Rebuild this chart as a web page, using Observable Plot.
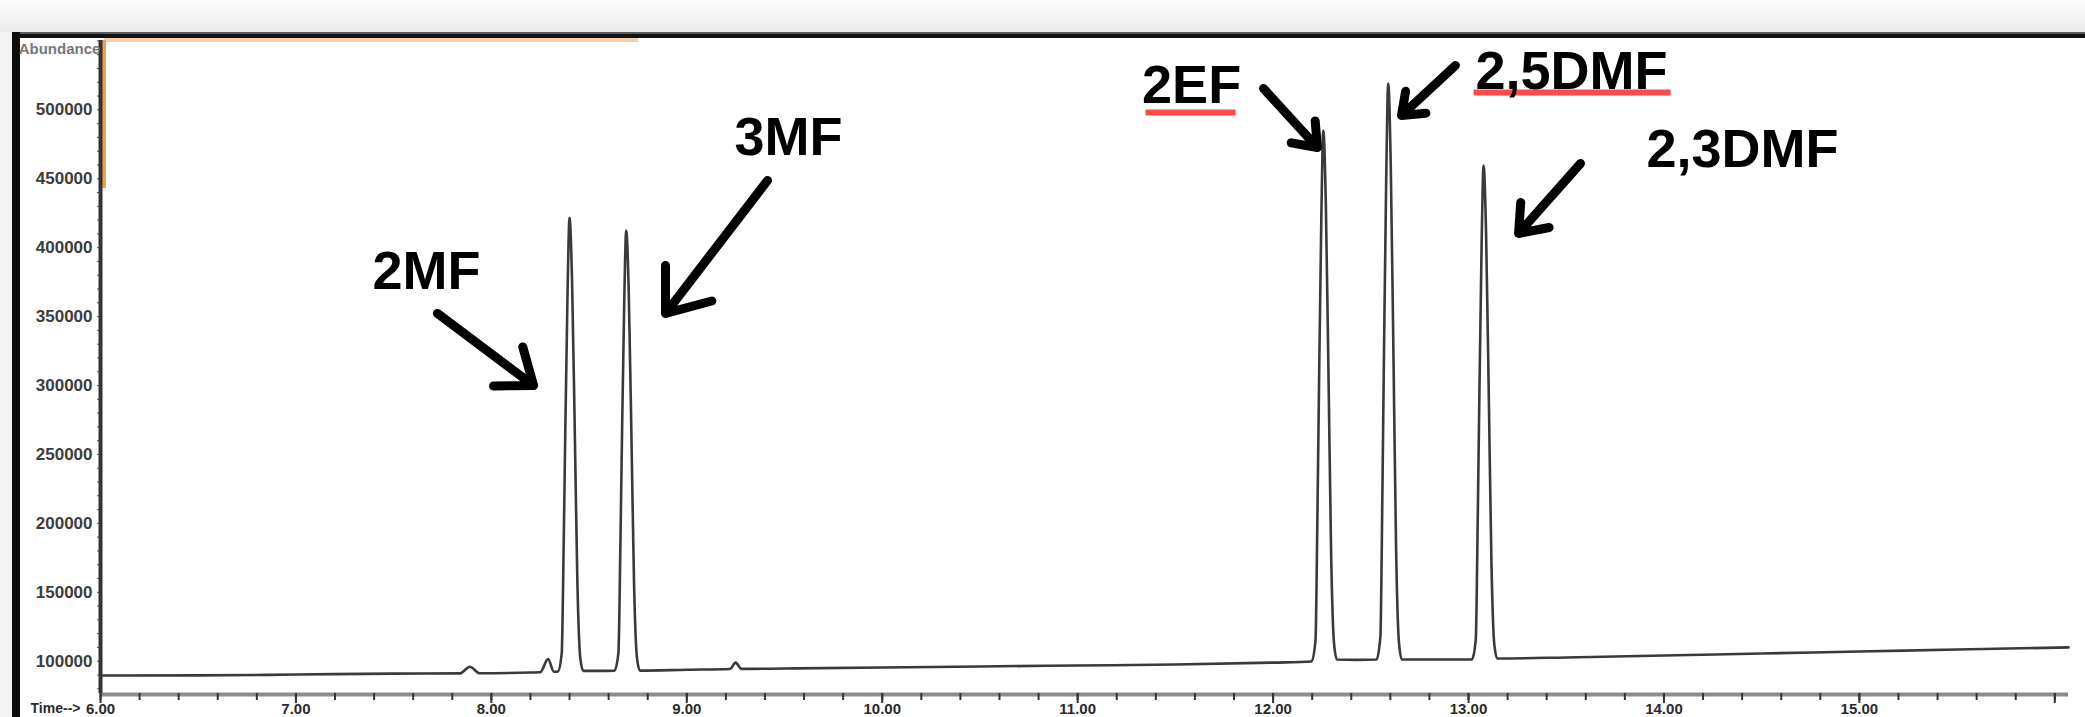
<!DOCTYPE html>
<html><head><meta charset="utf-8">
<script src="https://cdn.jsdelivr.net/npm/d3@7"></script>
<script src="https://cdn.jsdelivr.net/npm/@observablehq/plot@0.6"></script>
<style>
html,body{margin:0;padding:0;background:#fff;}
#wrap{position:relative;width:2085px;height:717px;overflow:hidden;background:#fff;}
.deco{position:absolute;}
#chart{position:absolute;left:0;top:0;}
</style></head><body>
<div id="wrap">
 <div class="deco" style="left:0;top:0;width:2085px;height:32px;background:linear-gradient(#fcfcfc,#ebebeb);"></div>
 <div class="deco" style="left:0;top:32px;width:12px;bottom:0;background:#f3f3f3;"></div>
 <div class="deco" style="left:12px;top:32px;right:0;height:2px;background:#5a5a5a;"></div>
 <div class="deco" style="left:12px;top:34px;right:0;height:4px;background:#121212;"></div>
 <div class="deco" style="left:12px;top:32px;width:8px;bottom:0;background:#0d0d0d;"></div>
 <div class="deco" style="left:104px;top:38px;width:534px;height:4px;background:#f7cfac;"></div>
 <div class="deco" style="left:102px;top:40px;width:4px;height:148px;background:#f0a04c;"></div>
 <div id="chart"></div>
</div>
<script>
// Chromatogram trace (retention time in minutes, abundance)
const retentionTime = [
  6.00, 6.50, 7.00, 7.50, 7.84, 7.89, 7.94, 8.20, 8.25, 8.29, 8.32, 8.34,
  8.36, 8.37, 8.378, 8.39, 8.40, 8.413, 8.428, 8.44, 8.455, 8.47,
  8.55, 8.63,
  8.65, 8.66, 8.668, 8.68, 8.69, 8.703, 8.718, 8.73, 8.745, 8.76,
  9.00, 9.22, 9.25, 9.28, 9.50, 10.00, 10.50, 11.00, 11.50, 12.00, 12.197,
  12.217, 12.227, 12.235, 12.247, 12.257, 12.270, 12.285, 12.297, 12.312, 12.327,
  12.43, 12.529,
  12.549, 12.559, 12.567, 12.579, 12.589, 12.602, 12.617, 12.629, 12.644, 12.659,
  12.85, 13.017,
  13.037, 13.047, 13.055, 13.067, 13.077, 13.090, 13.105, 13.117, 13.132, 13.147,
  13.50, 14.00, 14.50, 15.00, 15.50, 16.07
];
const abundance = [
  89600, 89700, 90300, 91000, 91200, 96000, 91300, 91800, 92000, 101500, 92300, 92500,
  105700, 184600, 263600, 369000, 421600, 375500, 257000, 158300, 102400, 93000,
  93000, 93200,
  105800, 182400, 259100, 361300, 412400, 367700, 252700, 156900, 102600, 93200,
  93800, 94300, 99000, 94400, 94700, 95400, 96200, 96900, 97600, 99000, 99800,
  115200, 207600, 300000, 423200, 485000, 431000, 293000, 178000, 112500, 101200,
  101000, 101200,
  117900, 218200, 318500, 452200, 519100, 460600, 310100, 184800, 113700, 101300,
  101200, 101200,
  115500, 201600, 287600, 402300, 459600, 409400, 280400, 173700, 112000, 102000,
  102700, 104100, 105600, 107000, 108500, 110000
];

// Peak annotations
const peakNames = ["2MF", "3MF", "2EF", "2,5DMF", "2,3DMF"];
const labelTime = [7.668, 9.52, 11.583, 13.527, 14.402];
const labelAbundance = [369700, 466900, 504600, 515400, 458200];
const arrowFromTime = [7.724, 9.413, 11.951, 12.933, 13.573];
const arrowFromAbundance = [352300, 448750, 515500, 532200, 461100];
const arrowToTime = [8.216, 8.891, 12.227, 12.657, 13.256];
const arrowToAbundance = [300000, 352300, 472700, 495900, 410300];
const underlinedNames = ["2EF", "2,5DMF"];
const underlineFromTime = [11.347, 13.026];
const underlineToTime = [11.808, 14.034];
const underlineAbundance = [498000, 512600];

// Axes
const xTickValues = [6, 7, 8, 9, 10, 11, 12, 13, 14, 15, 16];
const xTickLabels = ["6.00", "7.00", "8.00", "9.00", "10.00", "11.00", "12.00", "13.00", "14.00", "15.00", ""];
const yTickValues = [100000, 150000, 200000, 250000, 300000, 350000, 400000, 450000, 500000];
const xDomain = [6, 16.07];
const yDomain = [76570, 550300];

const trace = retentionTime.map((t, i) => ({t, v: abundance[i]}));
const labels = peakNames.map((name, i) => ({name, t: labelTime[i], v: labelAbundance[i]}));
const arrows = peakNames.map((name, i) => ({
  t1: arrowFromTime[i], v1: arrowFromAbundance[i], t2: arrowToTime[i], v2: arrowToAbundance[i]
}));
const underlines = underlinedNames.map((name, i) => ({
  t1: underlineFromTime[i], t2: underlineToTime[i], v: underlineAbundance[i]
}));
const xMinor = d3.range(6, 16.01, 0.2).map(d => +d.toFixed(1));
const yMinor = d3.range(80000, 550001, 10000);

const chart = Plot.plot({
  width: 2085,
  height: 717,
  marginLeft: 100,
  marginRight: 17,
  marginTop: 40,
  marginBottom: 24,
  style: {background: "transparent", fontFamily: "Liberation Sans, Arial, sans-serif", overflow: "visible"},
  x: {domain: xDomain},
  y: {domain: yDomain},
  marks: [
    // x axis
    Plot.ruleY([yDomain[0]], {stroke: "#8c8c8c", strokeWidth: 4, dy: 1}),
    Plot.axisX(xMinor, {anchor: "bottom", tickSize: 7, tickFormat: () => "", stroke: "#333", strokeWidth: 2, label: null}),
    Plot.axisX(xTickValues, {
      anchor: "bottom", tickSize: 10, tickPadding: 0, strokeWidth: 2, stroke: "#333",
      tickFormat: d => xTickLabels[xTickValues.indexOf(d)],
      fontSize: 15, fontWeight: "bold", fill: "#2a2a2a", label: null
    }),
    // y axis
    Plot.axisY(yMinor, {anchor: "left", tickSize: 3, tickFormat: () => "", stroke: "#555", label: null}),
    Plot.axisY(yTickValues, {
      anchor: "left", tickSize: 0, tickPadding: 8, tickFormat: d => String(d),
      fontSize: 17, fontWeight: "bold", fill: "#3c3c3c", label: null
    }),
    Plot.ruleX([xDomain[0]], {stroke: "#333", strokeWidth: 4}),
    Plot.text(["Abundance"], {x: () => xDomain[0], y: () => yDomain[1], dx: -41, dy: 9,
      textAnchor: "middle", lineAnchor: "middle", fontSize: 15, fontWeight: "bold", fill: "#777"}),
    Plot.text(["Time-->"], {x: () => xDomain[0], y: () => yDomain[0], dx: -20, dy: 19,
      textAnchor: "end", lineAnchor: "bottom", fontSize: 14, fontWeight: "bold", fill: "#2a2a2a"}),
    // trace
    Plot.line(trace, {x: "t", y: "v", stroke: "#3a3a3a", strokeWidth: 2.6, curve: "monotone-x"}),
    // annotations
    Plot.link(underlines, {x1: "t1", x2: "t2", y1: "v", y2: "v", stroke: "#ff4a4a", strokeWidth: 6}),
    Plot.text(labels, {x: "t", y: "v", text: "name", textAnchor: "middle", lineAnchor: "bottom",
      fontSize: 54, fontWeight: "bold", fill: "#000"}),
    Plot.arrow(arrows, {x1: "t1", y1: "v1", x2: "t2", y2: "v2", stroke: "#000",
      strokeWidth: 9, headLength: 8, headAngle: 75})
  ]
});
document.getElementById("chart").appendChild(chart);
</script>
</body></html>
